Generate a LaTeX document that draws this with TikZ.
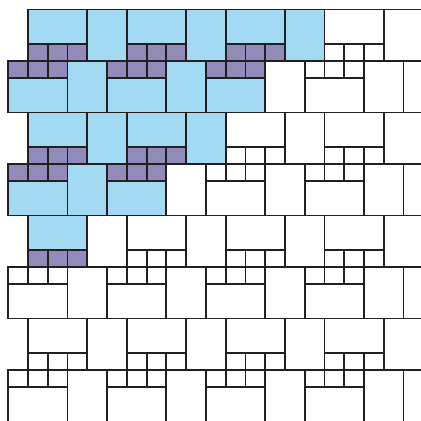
\documentclass[tikz,border=0pt]{standalone}
\definecolor{tileblue}{RGB}{164,217,243}
\definecolor{tilepurple}{RGB}{146,138,184}
\definecolor{linec}{RGB}{35,31,32}
% type A block: big rect on top-left, three squares below it, tall rect on the right
\newcommand\tileA[5]{%
  \path[pc=#3] (#1,#2) rectangle ++(3,2);
  \foreach \i in {0,1,2} {\path[pc=#4] ({#1+\i},{#2+2}) rectangle ++(1,1);}
  \path[pc=#5] ({#1+3},#2) rectangle ++(2,3);
}
% type B block: three squares on top-left, big rect below them, tall rect on the right
\newcommand\tileB[5]{%
  \foreach \i in {0,1,2} {\path[pc=#4] ({#1+\i},#2) rectangle ++(1,1);}
  \path[pc=#3] (#1,{#2+1}) rectangle ++(3,2);
  \path[pc=#5] ({#1+3},#2) rectangle ++(2,3);
}
\newcommand\allblocks{%
  % row A1
  \tileA{1}{0}{tileblue}{tilepurple}{tileblue}
  \tileA{6}{0}{tileblue}{tilepurple}{tileblue}
  \tileA{11}{0}{tileblue}{tilepurple}{tileblue}
  \tileA{16}{0}{white}{white}{white}
  % row B1
  \tileB{0}{3}{tileblue}{tilepurple}{tileblue}
  \tileB{5}{3}{tileblue}{tilepurple}{tileblue}
  \tileB{10}{3}{tileblue}{tilepurple}{white}
  \tileB{15}{3}{white}{white}{white}
  % row A2
  \tileA{1}{6}{tileblue}{tilepurple}{tileblue}
  \tileA{6}{6}{tileblue}{tilepurple}{tileblue}
  \tileA{11}{6}{white}{white}{white}
  \tileA{16}{6}{white}{white}{white}
  % row B2
  \tileB{0}{9}{tileblue}{tilepurple}{tileblue}
  \tileB{5}{9}{tileblue}{tilepurple}{white}
  \tileB{10}{9}{white}{white}{white}
  \tileB{15}{9}{white}{white}{white}
  % row A3
  \tileA{1}{12}{tileblue}{tilepurple}{white}
  \tileA{6}{12}{white}{white}{white}
  \tileA{11}{12}{white}{white}{white}
  \tileA{16}{12}{white}{white}{white}
  % row B3
  \tileB{0}{15}{white}{white}{white}
  \tileB{5}{15}{white}{white}{white}
  \tileB{10}{15}{white}{white}{white}
  \tileB{15}{15}{white}{white}{white}
  % row A4
  \tileA{1}{18}{white}{white}{white}
  \tileA{6}{18}{white}{white}{white}
  \tileA{11}{18}{white}{white}{white}
  \tileA{16}{18}{white}{white}{white}
  % row B4
  \tileB{0}{21}{white}{white}{white}
  \tileB{5}{21}{white}{white}{white}
  \tileB{10}{21}{white}{white}{white}
  \tileB{15}{21}{white}{white}{white}
}
\begin{document}
\begin{tikzpicture}[x=19.76pt,y=-17.17pt]
  \useasboundingbox (-0.42,-0.553) rectangle (20.886,23.966);
  \fill[white] (-0.42,-0.553) rectangle (20.886,23.966);
  \clip (-0.42,-0.553) rectangle (20.886,23.966);
  \begin{scope}[pc/.style={fill=#1}]
    \allblocks
  \end{scope}
  \begin{scope}[pc/.style={draw=linec,line width=1.8pt}]
    \allblocks
  \end{scope}
\end{tikzpicture}
\end{document}
